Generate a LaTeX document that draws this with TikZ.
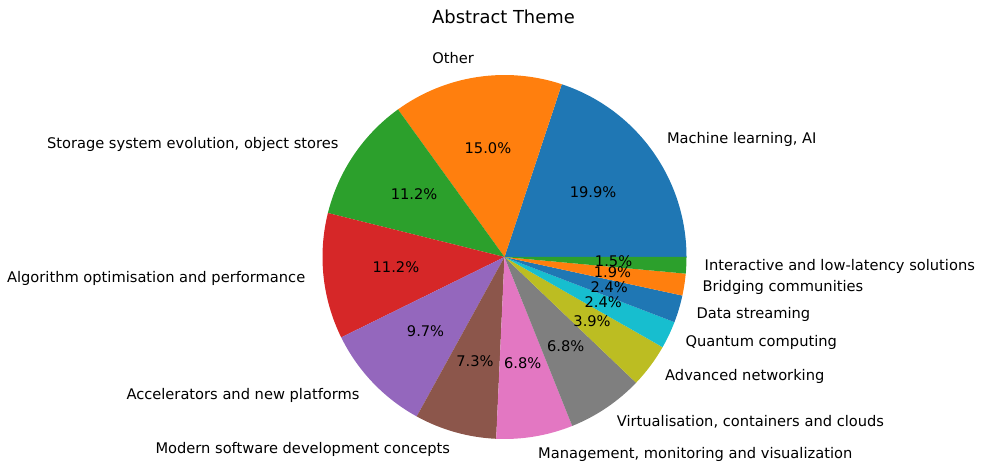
\documentclass[tikz,border=0pt]{standalone}
\usepackage{fontspec}
\setmainfont{DejaVu Sans}
\definecolor{tabblue}{HTML}{1F77B4}
\definecolor{taborange}{HTML}{FF7F0E}
\definecolor{tabgreen}{HTML}{2CA02C}
\definecolor{tabred}{HTML}{D62728}
\definecolor{tabpurple}{HTML}{9467BD}
\definecolor{tabbrown}{HTML}{8C564B}
\definecolor{tabpink}{HTML}{E377C2}
\definecolor{tabgray}{HTML}{7F7F7F}
\definecolor{tabolive}{HTML}{BCBD22}
\definecolor{tabcyan}{HTML}{17BECF}
\begin{document}
\begin{tikzpicture}[x=1pt,y=1pt,
  lbl/.style={inner sep=0pt,text height=0.76em,text depth=0.24em,yshift=-1.5pt,font=\fontsize{14.65}{17}\selectfont},
  pct/.style={lbl}]
  \useasboundingbox (0,0) rectangle (984,463);
  \coordinate (c) at (504.5,206);
  \node[inner sep=0pt,anchor=base,font=\fontsize{17.9}{21}\selectfont] (title) at (503.5,439) {Abstract Theme};

  \fill[tabblue] (c) -- ++(0:182pt) arc[start angle=0,end angle=71.650,radius=182pt] -- cycle;
  \fill[taborange] (c) -- ++(71.650:182pt) arc[start angle=71.650,end angle=125.825,radius=182pt] -- cycle;
  \fill[tabgreen] (c) -- ++(125.825:182pt) arc[start angle=125.825,end angle=166.019,radius=182pt] -- cycle;
  \fill[tabred] (c) -- ++(166.019:182pt) arc[start angle=166.019,end angle=206.214,radius=182pt] -- cycle;
  \fill[tabpurple] (c) -- ++(206.214:182pt) arc[start angle=206.214,end angle=241.165,radius=182pt] -- cycle;
  \fill[tabbrown] (c) -- ++(241.165:182pt) arc[start angle=241.165,end angle=267.379,radius=182pt] -- cycle;
  \fill[tabpink] (c) -- ++(267.379:182pt) arc[start angle=267.379,end angle=291.845,radius=182pt] -- cycle;
  \fill[tabgray] (c) -- ++(291.845:182pt) arc[start angle=291.845,end angle=316.311,radius=182pt] -- cycle;
  \fill[tabolive] (c) -- ++(316.311:182pt) arc[start angle=316.311,end angle=330.291,radius=182pt] -- cycle;
  \fill[tabcyan] (c) -- ++(330.291:182pt) arc[start angle=330.291,end angle=339.029,radius=182pt] -- cycle;
  \fill[tabblue] (c) -- ++(339.029:182pt) arc[start angle=339.029,end angle=347.767,radius=182pt] -- cycle;
  \fill[taborange] (c) -- ++(347.767:182pt) arc[start angle=347.767,end angle=354.757,radius=182pt] -- cycle;
  \fill[tabgreen] (c) -- ++(354.757:182pt) arc[start angle=354.757,end angle=360,radius=182pt] -- cycle;

  \node[lbl,anchor=west] (ml) at ([shift={(35.825:200.2pt)}]c) {Machine learning, AI};
  \node[lbl,anchor=east] (other) at ([shift={(98.738:200.2pt)}]c) {Other};
  \node[lbl,anchor=east] (storage) at ([shift={(145.922:200.2pt)}]c) {Storage system evolution, object stores};
  \node[lbl,anchor=east] (algo) at ([shift={(186.117:200.2pt)}]c) {Algorithm optimisation and performance};
  \node[lbl,anchor=east] (accel) at ([shift={(223.689:200.2pt)}]c) {Accelerators and new platforms};
  \node[lbl,anchor=east] (modern) at ([shift={(254.272:200.2pt)}]c) {Modern software development concepts};
  \node[lbl,anchor=west] (manage) at ([shift={(279.612:200.2pt)}]c) {Management, monitoring and visualization};
  \node[lbl,anchor=west] (virt) at ([shift={(304.078:200.2pt)}]c) {Virtualisation, containers and clouds};
  \node[lbl,anchor=west] (net) at ([shift={(323.301:200.2pt)}]c) {Advanced networking};
  \node[lbl,anchor=west] (quantum) at ([shift={(334.660:200.2pt)}]c) {Quantum computing};
  \node[lbl,anchor=west] (stream) at ([shift={(343.398:200.2pt)}]c) {Data streaming};
  \node[lbl,anchor=west] (bridge) at ([shift={(351.262:200.2pt)}]c) {Bridging communities};
  \node[lbl,anchor=west] (inter) at ([shift={(357.379:200.2pt)}]c) {Interactive and low-latency solutions};

  \node[pct] (mlp) at ([shift={(35.825:109.2pt)}]c) {19.9\%};
  \node[pct] (otherp) at ([shift={(98.738:109.2pt)}]c) {15.0\%};
  \node[pct] (storagep) at ([shift={(145.922:109.2pt)}]c) {11.2\%};
  \node[pct] (algop) at ([shift={(186.117:109.2pt)}]c) {11.2\%};
  \node[pct] (accelp) at ([shift={(223.689:109.2pt)}]c) {9.7\%};
  \node[pct] (modernp) at ([shift={(254.272:109.2pt)}]c) {7.3\%};
  \node[pct] (managep) at ([shift={(279.612:109.2pt)}]c) {6.8\%};
  \node[pct] (virtp) at ([shift={(304.078:109.2pt)}]c) {6.8\%};
  \node[pct] (netp) at ([shift={(323.301:109.2pt)}]c) {3.9\%};
  \node[pct] (quantump) at ([shift={(334.660:109.2pt)}]c) {2.4\%};
  \node[pct] (streamp) at ([shift={(343.398:109.2pt)}]c) {2.4\%};
  \node[pct] (bridgep) at ([shift={(351.262:109.2pt)}]c) {1.9\%};
  \node[pct] (interp) at ([shift={(357.379:109.2pt)}]c) {1.5\%};
\end{tikzpicture}
\end{document}
